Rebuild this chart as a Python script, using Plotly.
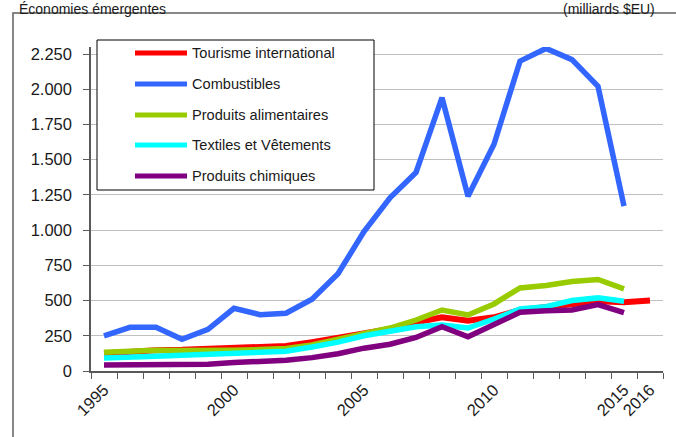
import plotly.graph_objects as go

years_red = list(range(1995, 2017))
years = list(range(1995, 2016))

tourisme = [125, 140, 148, 150, 155, 163, 168, 178, 205, 237, 267, 298, 345, 381, 357, 381, 433, 452, 481, 495, 488, 500]
combustibles = [250, 310, 310, 225, 295, 445, 400, 410, 510, 690, 990, 1230, 1410, 1940, 1240, 1610, 2200, 2290, 2210, 2020, 1170]
alimentaires = [133, 143, 148, 145, 143, 148, 152, 160, 185, 225, 265, 305, 362, 433, 398, 476, 590, 607, 636, 650, 583]
textiles = [93, 95, 105, 112, 117, 124, 129, 140, 170, 205, 250, 286, 314, 326, 305, 369, 440, 457, 500, 519, 495]
chimiques = [43, 45, 48, 48, 48, 60, 64, 76, 95, 122, 162, 190, 238, 314, 243, 329, 417, 428, 433, 471, 414]

names = ["Tourisme international", "Combustibles", "Produits alimentaires",
         "Textiles et Vêtements", "Produits chimiques"]
colors = ["#ff0000", "#3366ff", "#99cc00", "#00ffff", "#800080"]

y_tickvals = [0, 250, 500, 750, 1000, 1250, 1500, 1750, 2000, 2250]
y_ticktext = ["0", "250", "500", "750", "1.000", "1.250", "1.500", "1.750", "2.000", "2.250"]
x_tickvals = [1995, 2000, 2005, 2010, 2015, 2016]
x_ticktext = ["1995", "2000", "2005", "2010", "2015", "2016"]

title_left = "Économies émergentes"
title_right = "(milliards $EU)"

FONT = "Liberation Sans, Arial, sans-serif"

W, H = 676, 437
L, R, T, B = 91, 13, 47, 66
pw, ph = W - L - R, H - T - B

def px(x):
    return (x - L) / pw

def py(y):
    return (H - B - y) / ph

fig = go.Figure()
series = [(years_red, tourisme), (years, combustibles), (years, alimentaires),
          (years, textiles), (years, chimiques)]
widths = [6, 5.5, 5.5, 5.5, 5.5]
for (xs, ys), n, c, w in zip(series, names, colors, widths):
    fig.add_trace(go.Scatter(x=xs, y=ys, name=n, mode="lines",
                             line=dict(color=c, width=w), showlegend=False))

shapes = []
annotations = []
# outer frame
shapes.append(dict(type="rect", xref="paper", yref="paper",
                   x0=px(13), x1=px(720), y0=py(480), y1=py(13),
                   line=dict(color="#606060", width=1.5), fillcolor="rgba(0,0,0,0)", layer="below"))
# legend box
shapes.append(dict(type="rect", xref="paper", yref="paper",
                   x0=px(97), x1=px(374), y0=py(190), y1=py(40),
                   line=dict(color="#000000", width=1), fillcolor="white", layer="above"))
rows = [53, 84, 115, 145, 176]
for n, c, yy in zip(names, colors, rows):
    shapes.append(dict(type="line", xref="paper", yref="paper",
                       x0=px(135), x1=px(187), y0=py(yy), y1=py(yy),
                       line=dict(color=c, width=5), layer="above"))
    annotations.append(dict(text=n, xref="paper", yref="paper", x=px(190), y=py(yy),
                            xanchor="left", yanchor="middle", showarrow=False,
                            font=dict(family=FONT, size=14.6, color="#1a1a1a")))

annotations.append(dict(text=title_left, xref="paper", yref="paper", x=px(18), y=py(0),
                        xanchor="left", yanchor="top", showarrow=False, borderpad=0,
                        font=dict(family=FONT, size=14, color="#1a1a1a")))
annotations.append(dict(text=title_right, xref="paper", yref="paper", x=px(562), y=py(0),
                        xanchor="left", yanchor="top", showarrow=False, borderpad=0,
                        font=dict(family=FONT, size=14, color="#1a1a1a")))

fig.update_layout(
    width=W, height=H,
    margin=dict(l=L, r=R, t=T, b=B, pad=0),
    paper_bgcolor="white", plot_bgcolor="white",
    font=dict(family=FONT, size=16, color="#1a1a1a"),
    shapes=shapes, annotations=annotations,
    showlegend=False,
)
fig.update_xaxes(
    range=[1994.5, 2016.5], tickvals=x_tickvals, ticktext=x_ticktext,
    tickangle=-45, ticks="outside", ticklen=1, tickcolor="rgba(0,0,0,0)",
    showgrid=False, zeroline=False, showline=True, linecolor="#595959", linewidth=1.5,
    tickfont=dict(family=FONT, size=16.5, color="#1a1a1a"),
    minor=dict(tickvals=[1994.5 + i for i in range(23)], ticks="outside", ticklen=6,
               tickcolor="#595959", tickwidth=1, showgrid=False),
)
fig.update_yaxes(
    range=[0, 2300], tickvals=y_tickvals, ticktext=y_ticktext,
    ticks="outside", ticklen=6, tickcolor="#595959", tickwidth=1,
    showgrid=True, gridcolor="#c0c0c0", gridwidth=1, zeroline=False,
    showline=True, linecolor="#595959", linewidth=1.5,
    ticklabelstandoff=8,
    tickfont=dict(family=FONT, size=16.5, color="#1a1a1a"),
)

fig.write_html("out.html", config={"displayModeBar": False},
               post_script="document.body.style.margin='0';")
